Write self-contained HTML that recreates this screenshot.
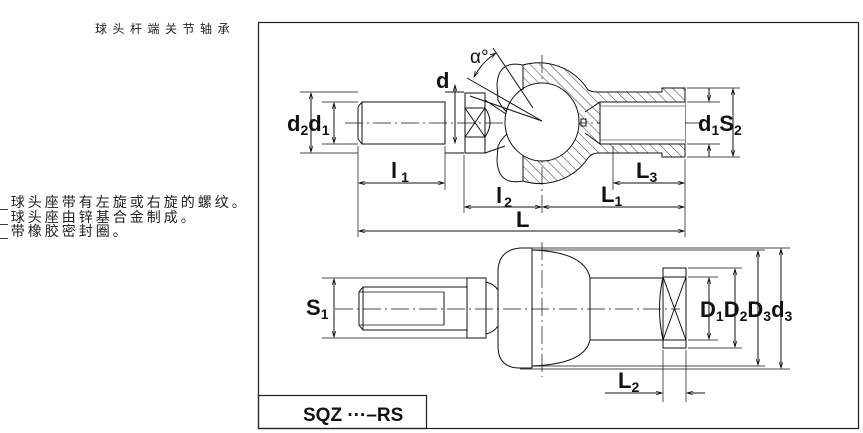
<!DOCTYPE html>
<html><head><meta charset="utf-8"><style>
html,body{margin:0;padding:0;background:#fff;width:863px;height:433px;overflow:hidden}
svg{display:block}
.t{font-family:"Liberation Sans","Noto Sans CJK SC",sans-serif}
.l{font-family:"Liberation Sans Narrow","Liberation Sans",sans-serif;font-weight:bold;fill:#111}
</style></head><body>
<svg width="863" height="433" viewBox="0 0 863 433" xmlns="http://www.w3.org/2000/svg">
<defs>
<pattern id="h" patternUnits="userSpaceOnUse" width="7" height="7" patternTransform="rotate(-45)">
<line x1="0" y1="0" x2="0" y2="7" stroke="#222" stroke-width="0.9"/>
</pattern>
<marker id="a" viewBox="0 0 10 10" refX="10" refY="5" markerWidth="8" markerHeight="6" orient="auto-start-reverse">
<path d="M0,2 L10,5 L0,8" fill="none" stroke="#111" stroke-width="1.2"/>
</marker>
</defs>
<!-- left text -->
<text class="t" x="95" y="33" font-size="12" letter-spacing="5.5" fill="#222">球头杆端关节轴承</text>
<text class="t" x="0" y="207" font-size="14" fill="#222" letter-spacing="3">_球头座带有左旋或右旋的螺纹。</text>
<text class="t" x="0" y="222" font-size="14" fill="#222" letter-spacing="3">_球头座由锌基合金制成。</text>
<text class="t" x="0" y="236" font-size="14" fill="#222" letter-spacing="3">_带橡胶密封圈。</text>
<!-- frame -->
<rect x="258.5" y="22.5" width="600" height="406" fill="none" stroke="#222" stroke-width="1.2"/>
<rect x="258.5" y="395.5" width="168" height="33" fill="none" stroke="#222" stroke-width="1.2"/>
<text class="l" x="303" y="421" font-size="19">SQZ ···–RS</text>

<g stroke="#111" stroke-width="1" fill="none">
<!-- ===== upper view ===== -->
<line x1="345" y1="123" x2="700" y2="123" stroke-dasharray="18,4,2,4" stroke-width="0.7"/>
<line x1="542" y1="55" x2="542" y2="215" stroke-dasharray="18,4,2,4" stroke-width="0.7"/>
<path d="M362,102 L445,102 L445,144 L362,144 L358,139 L358,107 Z"/>
<line x1="362" y1="102" x2="362" y2="144"/>
<line x1="445" y1="92" x2="464" y2="92"/><line x1="445" y1="153" x2="464" y2="153"/>
<rect x="465" y="93" width="20" height="60"/>
<rect x="465" y="108" width="20" height="29"/>
<path d="M465,108 L485,137 M485,108 L465,137"/>
<path d="M485,108 Q495,122 485,137"/>
<path d="M485,100 L506,114 M485,153 L505,146"/>
<path d="M523,65 A58,58 0 0 1 588,90 Q592,92 598,92 L662,92 L662,88 L685,88 L685,157 L662,157 L662,153 L598,153 Q592,153 588,158 A58,58 0 0 1 523,181 Z" fill="url(#h)"/>
<ellipse cx="542" cy="122" rx="37" ry="39" fill="#fff"/>
<rect x="600" y="102" width="85" height="42" fill="#fff" stroke="none"/>
<path d="M585,112 L600,102 L685,102 M585,133 L600,144 L685,144"/>
<path d="M600,106 L685,106 M600,140 L685,140" stroke-width="0.6"/>
<line x1="600" y1="102" x2="600" y2="144"/>
<rect x="581" y="119" width="5" height="7"/>
<path d="M523,65 Q498,60 497,85 L498,100 Q502,108 507,112"/>
<path d="M523,181 Q498,186 497,160 L498,146 Q502,138 507,134"/>
<line x1="523" y1="65" x2="523" y2="90"/><line x1="523" y1="156" x2="523" y2="181"/>
<path d="M467,78 L542,121 M470,96 L542,121"/>
<path d="M493,48 L533,108"/>
<path d="M474,77 Q482,62 496,53" marker-start="url(#a)" marker-end="url(#a)"/>
<path d="M300,92 L358,92 M300,153 L358,153 M322,102 L358,102 M322,144 L358,144" stroke-width="0.7"/>
<line x1="311" y1="93" x2="311" y2="152" marker-start="url(#a)" marker-end="url(#a)"/>
<line x1="334" y1="103" x2="334" y2="143" marker-start="url(#a)" marker-end="url(#a)"/>
<line x1="455" y1="85" x2="455" y2="143" marker-start="url(#a)" marker-end="url(#a)"/>
<path d="M687,88 L740,88 M687,157 L740,157 M687,102 L720,102 M687,144 L720,144" stroke-width="0.7"/>
<path d="M709,88 L709,101" marker-end="url(#a)"/><path d="M709,157 L709,145" marker-end="url(#a)"/>
<line x1="733" y1="89" x2="733" y2="156" marker-start="url(#a)" marker-end="url(#a)"/>
<path d="M358,146 L358,237 M445,146 L445,190 M464,155 L464,213 M685,159 L685,237 M613,146 L613,190" stroke-width="0.7"/>
<line x1="359" y1="183" x2="444" y2="183" marker-start="url(#a)" marker-end="url(#a)"/>
<line x1="614" y1="183" x2="684" y2="183" marker-start="url(#a)" marker-end="url(#a)"/>
<line x1="465" y1="207" x2="541" y2="207" marker-start="url(#a)" marker-end="url(#a)"/>
<line x1="543" y1="207" x2="684" y2="207" marker-start="url(#a)" marker-end="url(#a)"/>
<line x1="359" y1="231" x2="684" y2="231" marker-start="url(#a)" marker-end="url(#a)"/>

<!-- ===== lower view ===== -->
<line x1="335" y1="309" x2="680" y2="309" stroke-dasharray="18,4,2,4" stroke-width="0.7"/>
<line x1="542" y1="242" x2="542" y2="377" stroke-dasharray="18,4,2,4" stroke-width="0.7"/>
<path d="M363,287 L467,287 L467,330 L363,330 L359,325 L359,292 Z"/>
<line x1="363" y1="287" x2="363" y2="330"/>
<line x1="444" y1="292" x2="444" y2="325"/>
<line x1="359" y1="292" x2="444" y2="292" stroke-width="0.8"/><line x1="359" y1="325" x2="444" y2="325" stroke-width="0.8"/>
<rect x="467" y="278" width="19" height="60"/>
<path d="M486,282 Q494,284 498,290 M486,334 Q494,332 498,326"/>
<path d="M520,248 Q498,250 498,272 L498,346 Q498,368 520,368 L532,368"/>
<path d="M520,248 L532,248"/>
<line x1="532" y1="248" x2="532" y2="368"/>
<path d="M532,250 Q585,252 590,278 L663,278 M532,366 Q585,364 590,340 L663,340"/>
<line x1="590" y1="278" x2="590" y2="340"/>
<rect x="663" y="268" width="23" height="80"/>
<rect x="663" y="277" width="23" height="63"/>
<path d="M663,277 L686,340 M686,277 L663,340"/>
<path d="M663,277 Q656,309 663,340"/>
<path d="M322,278 L467,278 M322,338 L467,338" stroke-width="0.7"/>
<line x1="334" y1="279" x2="334" y2="337" marker-start="url(#a)" marker-end="url(#a)"/>
<path d="M688,268 L742,268 M688,348 L742,348 M688,277 L718,277 M688,340 L718,340 M532,250 L765,250 M520,248 L790,248 M532,366 L765,366 M520,369 L790,369" stroke-width="0.7"/>
<line x1="709" y1="278" x2="709" y2="339" marker-start="url(#a)" marker-end="url(#a)"/>
<line x1="735" y1="269" x2="735" y2="347" marker-start="url(#a)" marker-end="url(#a)"/>
<line x1="758" y1="251" x2="758" y2="365" marker-start="url(#a)" marker-end="url(#a)"/>
<line x1="781" y1="249" x2="781" y2="368" marker-start="url(#a)" marker-end="url(#a)"/>
<path d="M663,350 L663,402 M686,350 L686,402" stroke-width="0.7"/>
<path d="M605,393 L662,393" marker-end="url(#a)"/><path d="M705,393 L687,393" marker-end="url(#a)"/>
</g>

<g class="l" font-size="22">
<text x="470" y="63" font-size="19" font-weight="normal">α°</text>
<text x="436" y="88">d</text>
<text x="287" y="131">d<tspan font-size="14" dy="4">2</tspan><tspan dy="-4">d</tspan><tspan font-size="14" dy="4">1</tspan></text>
<text x="698" y="131">d<tspan font-size="14" dy="4">1</tspan><tspan dy="-4">S</tspan><tspan font-size="14" dy="4">2</tspan></text>
<text x="391" y="178">l<tspan font-size="14" dy="4" dx="4">1</tspan></text>
<text x="496" y="203">l<tspan font-size="14" dy="4" dx="2">2</tspan></text>
<text x="601" y="202">L<tspan font-size="14" dy="4">1</tspan></text>
<text x="636" y="178">L<tspan font-size="14" dy="4">3</tspan></text>
<text x="516" y="227">L</text>
<text x="306" y="315">S<tspan font-size="14" dy="4">1</tspan></text>
<text x="700" y="317">D<tspan font-size="14" dy="4">1</tspan><tspan dy="-4">D</tspan><tspan font-size="14" dy="4">2</tspan><tspan dy="-4">D</tspan><tspan font-size="14" dy="4">3</tspan><tspan dy="-4">d</tspan><tspan font-size="14" dy="4">3</tspan></text>
<text x="618" y="388">L<tspan font-size="14" dy="4">2</tspan></text>
</g>
</svg>
</body></html>
